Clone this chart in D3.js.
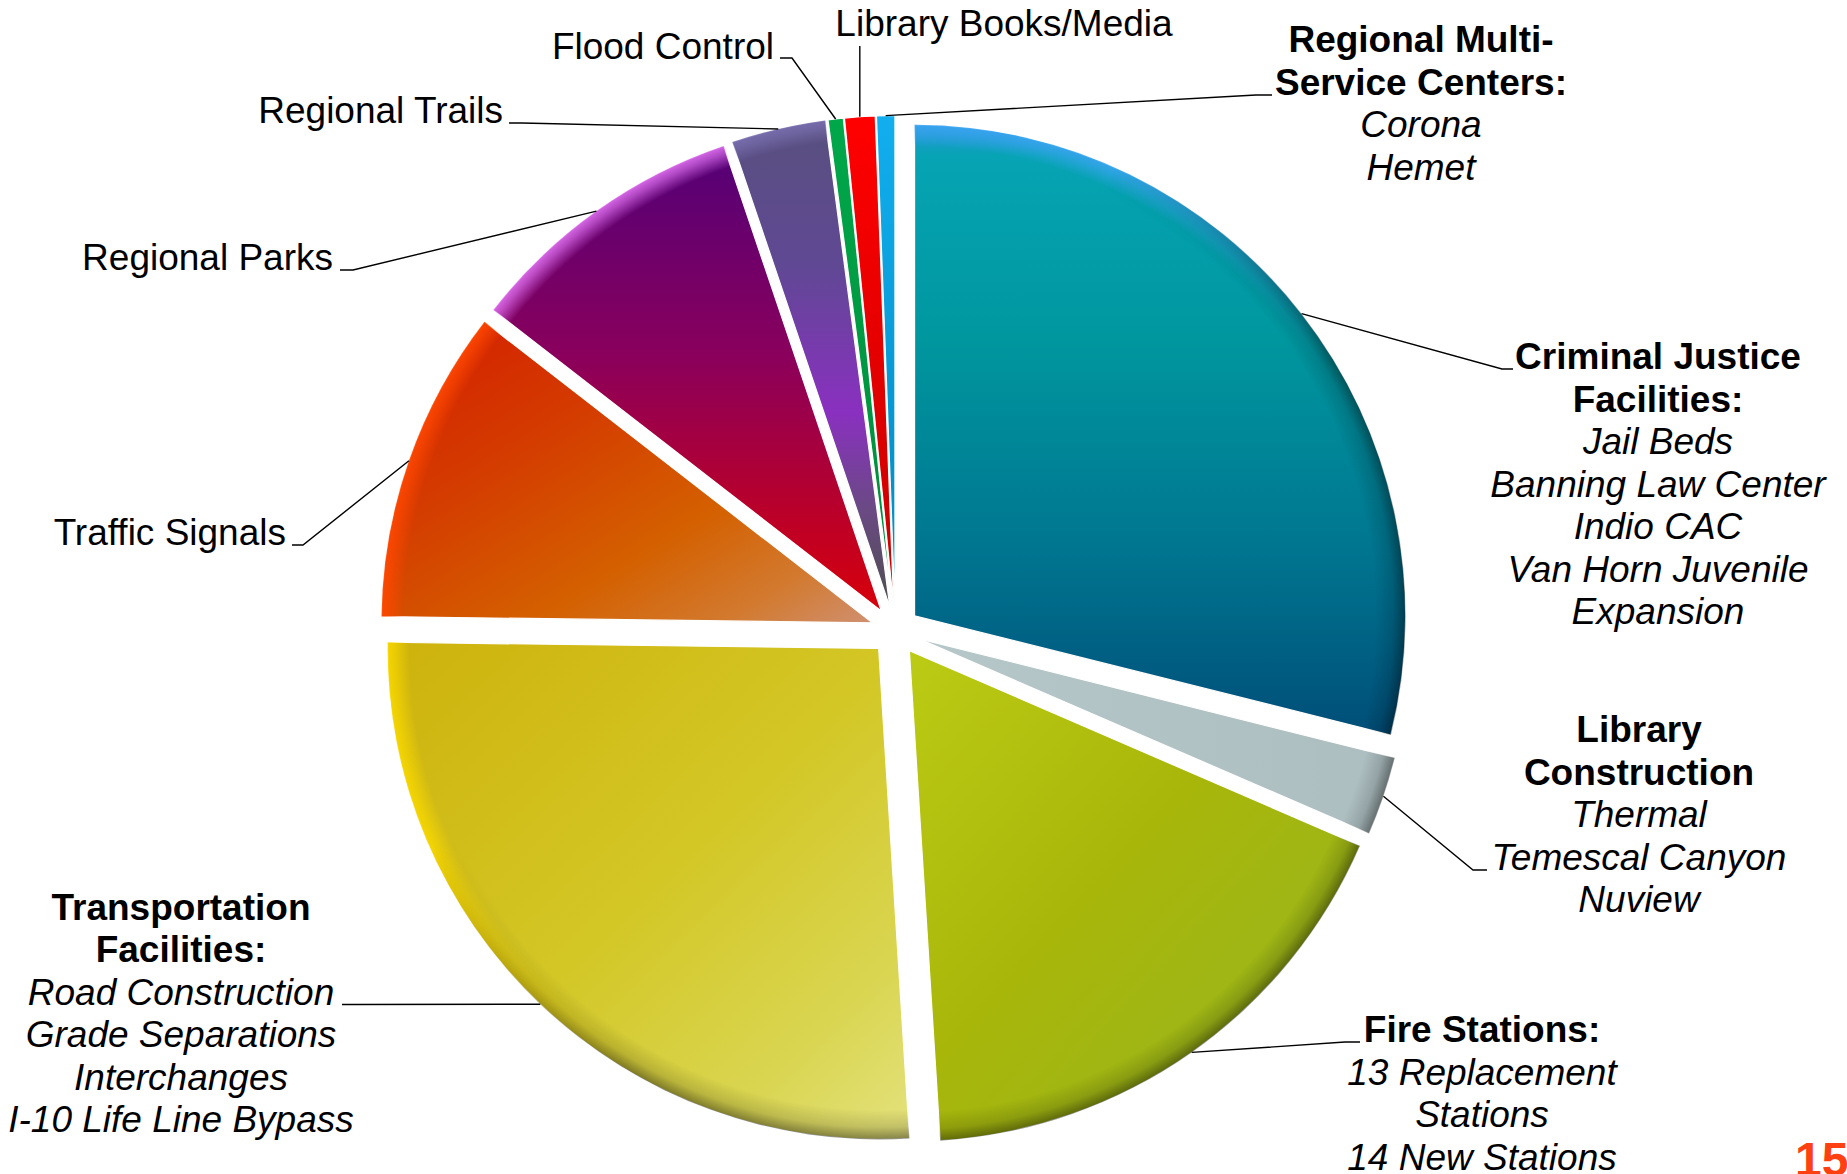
<!DOCTYPE html>
<html>
<head>
<meta charset="utf-8">
<script src="https://cdn.jsdelivr.net/npm/d3@7"></script>
<style>
  html, body { margin: 0; padding: 0; background: #ffffff; }
  svg { display: block; }
  text { font-family: "Liberation Sans", Arial, Helvetica, sans-serif; }
</style>
</head>
<body>
<svg id="chart" width="1847" height="1174"></svg>
<script>
// ---- data ---------------------------------------------------------------
const categories = [
  "Criminal Justice Facilities", "Library Construction", "Fire Stations",
  "Transportation Facilities", "Traffic Signals", "Regional Parks",
  "Regional Trails", "Flood Control", "Library Books/Media",
  "Regional Multi-Service Centers"
];
// share of the capital programme, percent
const shares = [28.9, 2.6, 17.5, 26.2, 10.3, 9.3, 3.1, 0.5, 1.0, 0.6];

// label text: bold heading lines, italic project lines, plain one-line labels
const labelBold = [
  ["Criminal Justice", "Facilities:"], ["Library", "Construction"], ["Fire Stations:"],
  ["Transportation", "Facilities:"], [], [], [], [], [], ["Regional Multi-", "Service Centers:"]
];
const labelItalic = [
  ["Jail Beds", "Banning Law Center", "Indio CAC", "Van Horn Juvenile", "Expansion"],
  ["Thermal", "Temescal Canyon", "Nuview"],
  ["13 Replacement", "Stations", "14 New Stations"],
  ["Road Construction", "Grade Separations", "Interchanges", "I-10 Life Line Bypass"],
  [], [], [], [], [], ["Corona", "Hemet"]
];
const labelPlain = ["", "", "", "", "Traffic Signals", "Regional Parks", "Regional Trails",
  "Flood Control", "Library Books/Media", ""];
const pageNumber = "15";

// ---- layout & style -----------------------------------------------------
const W = 1847, H = 1174;
const cx = 895.4, cy = 630.8, R = 491, explode = 24.3;
const fontSize = 37, lineH = 42.5;

const labelLayout = [
  { x: 1658, y: 369,   anchor: "middle", elbow: [1502, 369],  end: [1513, 369] },
  { x: 1639, y: 742,   anchor: "middle", elbow: [1473, 870],  end: [1487, 870] },
  { x: 1482, y: 1042,  anchor: "middle", elbow: [1345, 1042], end: [1360, 1042] },
  { x: 181,  y: 919.5, anchor: "middle", elbow: [352, 1004.5], end: [342, 1004.5] },
  { x: 286,  y: 545,   anchor: "end",    elbow: [303, 545],   end: [292, 545] },
  { x: 333,  y: 270,   anchor: "end",    elbow: [353, 270],   end: [340, 270] },
  { x: 503,  y: 123,   anchor: "end",    elbow: [522, 123],   end: [509, 123] },
  { x: 774,  y: 59,    anchor: "end",    elbow: [792, 58],    end: [780, 58] },
  { x: 1004, y: 36,    anchor: "middle", elbow: [null, 46],   end: [null, 46] },
  { x: 1421, y: 52,    anchor: "middle", elbow: [1256, 95],   end: [1272, 95] }
];

const sliceFills = [
  { dir: [0, 0, 0, 1], stops: [[0, "#2a95dc"], [0.05, "#06a4b4"], [0.35, "#00979f"], [0.7, "#007590"], [1, "#004e78"]], rim: "#3aa4f0" },
  { dir: [0, 0, 1, 0], stops: [[0, "#b6c7c9"], [1, "#adbec1"]], rim: "#d0dcde" },
  { dir: [0, 0, 1, 1], stops: [[0, "#bccb14"], [0.45, "#a8b60a"], [0.75, "#9db618"], [1, "#88b838"]], rim: "#c8d820" },
  { dir: [0, 0, 1, 1], stops: [[0, "#ceb20c"], [0.5, "#d3c726"], [0.8, "#d9d550"], [1, "#e4e27e"]], rim: "#f8d800" },
  { dir: [0, 0, 1, 1], stops: [[0, "#d41c00"], [0.35, "#d43c00"], [0.65, "#d46000"], [0.85, "#d27a30"], [1, "#d09070"]], rim: "#ff4800" },
  { dir: [0, 0, 0, 1], stops: [[0, "#520078"], [0.45, "#8a005c"], [1, "#d8000a"]], rim: "#e070f0" },
  { dir: [0, 0, 0, 1], stops: [[0, "#58507e"], [0.3, "#604894"], [0.6, "#8a30c0"], [0.8, "#6a4a84"], [1, "#4e4e4e"]], rim: "#7a70b0" },
  { dir: [0, 0, 0, 1], stops: [[0, "#00a84a"], [1, "#00883a"]], rim: null },
  { dir: [0, 0, 0, 1], stops: [[0, "#ff0000"], [1, "#c80000"]], rim: null },
  { dir: [0, 0, 0, 1], stops: [[0, "#12aeee"], [1, "#0088c0"]], rim: null }
];

// ---- drawing ------------------------------------------------------------
const data = categories.map((c, i) => ({ name: c, value: shares[i], i }));
const svg = d3.select("#chart");
const defs = svg.append("defs");

// slice body gradients
sliceFills.forEach((f, i) => {
  const g = defs.append("linearGradient").attr("id", "fill-" + i)
    .attr("x1", f.dir[0]).attr("y1", f.dir[1]).attr("x2", f.dir[2]).attr("y2", f.dir[3]);
  f.stops.forEach(s => g.append("stop").attr("offset", s[0]).attr("stop-color", s[1]));
  if (f.rim) {
    const h = defs.append("radialGradient").attr("id", "hl-" + i)
      .attr("gradientUnits", "userSpaceOnUse").attr("cx", 0).attr("cy", 0).attr("r", R);
    h.append("stop").attr("offset", 0).attr("stop-color", f.rim).attr("stop-opacity", 0);
    h.append("stop").attr("offset", 0.955).attr("stop-color", f.rim).attr("stop-opacity", 0);
    h.append("stop").attr("offset", 0.985).attr("stop-color", f.rim).attr("stop-opacity", 0.65);
    h.append("stop").attr("offset", 1).attr("stop-color", f.rim).attr("stop-opacity", 0.9);
  }
});

// bevel shading of the outer rim
const shade = defs.append("radialGradient").attr("id", "rimShade")
  .attr("gradientUnits", "userSpaceOnUse").attr("cx", 0).attr("cy", 0).attr("r", R);
[[0, 0], [0.94, 0], [0.975, 0.14], [1, 0.42]].forEach(s =>
  shade.append("stop").attr("offset", s[0]).attr("stop-color", "#000").attr("stop-opacity", s[1]));

function lightMask(id, from, to) {
  const lg = defs.append("linearGradient").attr("id", id + "-g")
    .attr("gradientUnits", "userSpaceOnUse")
    .attr("x1", -0.7 * R).attr("y1", -0.7 * R).attr("x2", 0.7 * R).attr("y2", 0.7 * R);
  lg.append("stop").attr("offset", 0).attr("stop-color", from);
  lg.append("stop").attr("offset", 0.32).attr("stop-color", from);
  lg.append("stop").attr("offset", 0.62).attr("stop-color", to);
  lg.append("stop").attr("offset", 1).attr("stop-color", to);
  defs.append("mask").attr("id", id).attr("maskUnits", "userSpaceOnUse")
    .attr("x", -R - 10).attr("y", -R - 10).attr("width", 2 * R + 20).attr("height", 2 * R + 20)
    .append("rect").attr("x", -R - 10).attr("y", -R - 10)
    .attr("width", 2 * R + 20).attr("height", 2 * R + 20).attr("fill", `url(#${id}-g)`);
}
lightMask("shadeMask", "#000", "#fff");
lightMask("lightMask", "#fff", "#000");

const pie = d3.pie().sort(null).value(d => d.value).startAngle(0).endAngle(2 * Math.PI);
const arcs = pie(data);
const arc = d3.arc().innerRadius(0).outerRadius(R);
const edgeArc = d3.arc().innerRadius(R).outerRadius(R);

function offsetOf(d) {
  const m = (d.startAngle + d.endAngle) / 2;
  return [explode * Math.sin(m), -explode * Math.cos(m)];
}

const slices = svg.append("g").attr("class", "slices")
  .selectAll("g").data(arcs).join("g")
  .attr("transform", d => {
    const o = offsetOf(d);
    return `translate(${cx + o[0]},${cy + o[1]})`;
  });

slices.append("path").attr("d", arc)
  .attr("fill", d => `url(#fill-${d.data.i})`)
  .attr("stroke", "#ffffff").attr("stroke-width", 1.2);
slices.filter(d => sliceFills[d.data.i].rim).append("path").attr("d", arc)
  .attr("fill", d => `url(#hl-${d.data.i})`).attr("mask", "url(#lightMask)");
slices.append("path").attr("d", arc)
  .attr("fill", "url(#rimShade)").attr("mask", "url(#shadeMask)");

// leader lines from the middle of each slice's outer edge
const leaders = svg.append("g").attr("class", "leaders");
arcs.forEach(d => {
  const L = labelLayout[d.data.i];
  const o = offsetOf(d);
  const c = edgeArc.centroid(d);
  const start = [cx + o[0] + c[0], cy + o[1] + c[1]];
  const elbow = [L.elbow[0] == null ? start[0] : L.elbow[0], L.elbow[1]];
  const end = [L.end[0] == null ? start[0] : L.end[0], L.end[1]];
  leaders.append("path")
    .attr("d", d3.line()([start, elbow, end]))
    .attr("fill", "none").attr("stroke", "#000").attr("stroke-width", 1.4);
});

// labels
const labels = svg.append("g").attr("class", "labels");
data.forEach(d => {
  const L = labelLayout[d.i];
  const lines = [];
  labelBold[d.i].forEach(t => lines.push({ t, w: 700, s: "normal" }));
  labelItalic[d.i].forEach(t => lines.push({ t, w: 400, s: "italic" }));
  if (labelPlain[d.i]) lines.push({ t: labelPlain[d.i], w: 400, s: "normal" });
  const txt = labels.append("text")
    .attr("text-anchor", L.anchor)
    .attr("font-size", fontSize).attr("fill", "#000");
  lines.forEach((ln, k) => {
    txt.append("tspan")
      .attr("x", L.x).attr("y", L.y + k * lineH)
      .attr("font-weight", ln.w).attr("font-style", ln.s)
      .text(ln.t);
  });
});

// slide number
svg.append("text")
  .attr("x", 1795).attr("y", 1176)
  .attr("font-size", 48).attr("font-weight", 700).attr("fill", "#ff4010")
  .text(pageNumber);
</script>
</body>
</html>
